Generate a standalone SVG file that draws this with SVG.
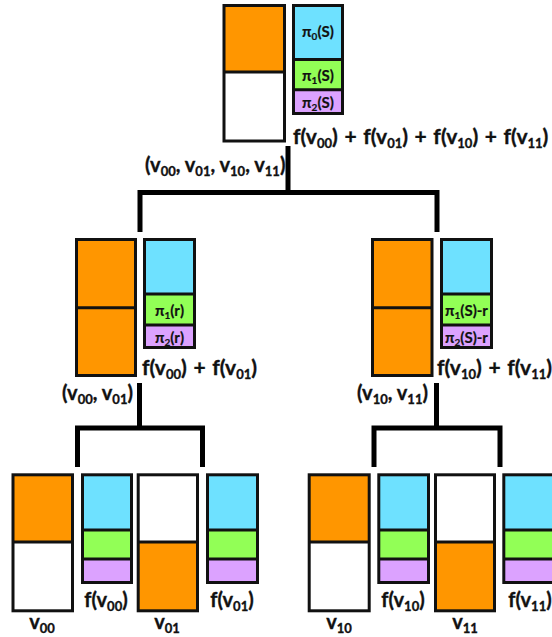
<svg xmlns="http://www.w3.org/2000/svg" width="552" height="637" viewBox="0 0 552 637">
<style>
.bx{stroke:#111;stroke-width:3;}
.or{fill:#FF9600;}
.wh{fill:#fff;}
.cy{fill:#6EE1FF;}
.gr{fill:#92FF56;}
.pu{fill:#DCA2FF;}
.dv{stroke:#111;stroke-width:3;fill:none;}
.ol{fill:none;stroke:#111;stroke-width:3;}
text{font-family:Lato,"Open Sans","Liberation Sans",sans-serif;font-weight:bold;fill:#111;}
.t{font-size:20px;stroke:#111;stroke-width:0.35px;}
.w{font-size:21px;word-spacing:1.5px;}
.p{font-size:15px;text-anchor:middle;stroke:#111;stroke-width:0.2px;}
.m{text-anchor:middle;}
.s{font-size:13px;}
.ps{font-size:10px;}
.cn{fill:none;stroke:#000;stroke-width:5;}
</style>
<g id="connectors">
<path class="cn" d="M288,146 V192.5 M140,232 V192.5 H437 V232"/>
<path class="cn" d="M139.5,383 V428 M77.5,467 V428 H202.5 V467"/>
<path class="cn" d="M436.5,383 V428 M374,467 V428 H500 V467"/>
</g>
<g id="root">
<rect class="or" x="224" y="5.5" width="60.5" height="66.5"/>
<rect class="wh" x="224" y="72" width="60.5" height="69"/>
<line class="dv" x1="224" y1="72" x2="284.5" y2="72"/>
<rect class="ol" x="224" y="5.5" width="60.5" height="135.5"/>
<rect class="cy" x="293.5" y="5.5" width="49" height="54"/>
<rect class="gr" x="293.5" y="59.5" width="49" height="30.3"/>
<rect class="pu" x="293.5" y="89.8" width="49" height="23.7"/>
<path class="dv" d="M293.5,59.5 H342.5 M293.5,89.8 H342.5"/>
<rect class="ol" x="293.5" y="5.5" width="49" height="108"/>
<text class="p" x="318" y="37">π<tspan class="ps" dy="3">0</tspan><tspan dy="-3">(S)</tspan></text>
<text class="p" x="318" y="81">π<tspan class="ps" dy="3">1</tspan><tspan dy="-3">(S)</tspan></text>
<text class="p" x="318" y="108">π<tspan class="ps" dy="3">2</tspan><tspan dy="-3">(S)</tspan></text>
<text class="t w" x="293" y="144">f(v<tspan class="s" dy="4">00</tspan><tspan dy="-4">) + f(v</tspan><tspan class="s" dy="4">01</tspan><tspan dy="-4">) + f(v</tspan><tspan class="s" dy="4">10</tspan><tspan dy="-4">) + f(v</tspan><tspan class="s" dy="4">11</tspan><tspan dy="-4">)</tspan></text>
<text class="t" x="145" y="172">(v<tspan class="s" dy="4">00</tspan><tspan dy="-4">, v</tspan><tspan class="s" dy="4">01</tspan><tspan dy="-4">, v</tspan><tspan class="s" dy="4">10</tspan><tspan dy="-4">, v</tspan><tspan class="s" dy="4">11</tspan><tspan dy="-4">)</tspan></text>
</g>
<g id="left">
<rect class="or" x="76.5" y="239.5" width="59" height="136"/>
<line class="dv" x1="76.5" y1="307.7" x2="135.5" y2="307.7"/>
<rect class="ol" x="76.5" y="239.5" width="59" height="136"/>
<rect class="cy" x="144.5" y="239.5" width="50" height="54.5"/>
<rect class="gr" x="144.5" y="294" width="50" height="31"/>
<rect class="pu" x="144.5" y="325" width="50" height="22.5"/>
<path class="dv" d="M144.5,294 H194.5 M144.5,325 H194.5"/>
<rect class="ol" x="144.5" y="239.5" width="50" height="108"/>
<text class="p" x="169.5" y="316">π<tspan class="ps" dy="3">1</tspan><tspan dy="-3">(r)</tspan></text>
<text class="p" x="169.5" y="343">π<tspan class="ps" dy="3">2</tspan><tspan dy="-3">(r)</tspan></text>
<text class="t w" x="142" y="375">f(v<tspan class="s" dy="4">00</tspan><tspan dy="-4">) + f(v</tspan><tspan class="s" dy="4">01</tspan><tspan dy="-4">)</tspan></text>
<text class="t" x="62" y="400">(v<tspan class="s" dy="4">00</tspan><tspan dy="-4">, v</tspan><tspan class="s" dy="4">01</tspan><tspan dy="-4">)</tspan></text>
</g>
<g id="right">
<rect class="or" x="372.5" y="239.5" width="59.5" height="136"/>
<line class="dv" x1="372.5" y1="307.7" x2="432" y2="307.7"/>
<rect class="ol" x="372.5" y="239.5" width="59.5" height="136"/>
<rect class="cy" x="441.5" y="239.5" width="50" height="54.5"/>
<rect class="gr" x="441.5" y="294" width="50" height="31"/>
<rect class="pu" x="441.5" y="325" width="50" height="22.5"/>
<path class="dv" d="M441.5,294 H491.5 M441.5,325 H491.5"/>
<rect class="ol" x="441.5" y="239.5" width="50" height="108"/>
<text class="p" x="466.5" y="316">π<tspan class="ps" dy="3">1</tspan><tspan dy="-3">(S)-r</tspan></text>
<text class="p" x="466.5" y="343">π<tspan class="ps" dy="3">2</tspan><tspan dy="-3">(S)-r</tspan></text>
<text class="t w" x="437" y="375">f(v<tspan class="s" dy="4">10</tspan><tspan dy="-4">) + f(v</tspan><tspan class="s" dy="4">11</tspan><tspan dy="-4">)</tspan></text>
<text class="t" x="357" y="400">(v<tspan class="s" dy="4">10</tspan><tspan dy="-4">, v</tspan><tspan class="s" dy="4">11</tspan><tspan dy="-4">)</tspan></text>
</g>
<g id="leaf00">
<rect class="or" x="13" y="474.8" width="59.5" height="67.2"/>
<rect class="wh" x="13" y="542" width="59.5" height="68.8"/>
<line class="dv" x1="13" y1="542" x2="72.5" y2="542"/>
<rect class="ol" x="13" y="474.8" width="59.5" height="136"/>
<rect class="cy" x="82.5" y="474.8" width="49" height="55.2"/>
<rect class="gr" x="82.5" y="530" width="49" height="29"/>
<rect class="pu" x="82.5" y="559" width="49" height="23.5"/>
<path class="dv" d="M82.5,530 H131.5 M82.5,559 H131.5"/>
<rect class="ol" x="82.5" y="474.8" width="49" height="107.7"/>
<text class="t m" x="106" y="607">f(v<tspan class="s" dy="4">00</tspan><tspan dy="-4">)</tspan></text>
<text class="t m" x="42" y="629">v<tspan class="s" dy="4">00</tspan></text>
</g>
<g id="leaf01">
<rect class="wh" x="138.2" y="474.8" width="59.3" height="67.2"/>
<rect class="or" x="138.2" y="542" width="59.3" height="68.8"/>
<line class="dv" x1="138.2" y1="542" x2="197.5" y2="542"/>
<rect class="ol" x="138.2" y="474.8" width="59.3" height="136"/>
<rect class="cy" x="207.5" y="474.8" width="50" height="55.2"/>
<rect class="gr" x="207.5" y="530" width="50" height="29"/>
<rect class="pu" x="207.5" y="559" width="50" height="23.5"/>
<path class="dv" d="M207.5,530 H257.5 M207.5,559 H257.5"/>
<rect class="ol" x="207.5" y="474.8" width="50" height="107.7"/>
<text class="t m" x="232" y="607">f(v<tspan class="s" dy="4">01</tspan><tspan dy="-4">)</tspan></text>
<text class="t m" x="167" y="629">v<tspan class="s" dy="4">01</tspan></text>
</g>
<g id="leaf10">
<rect class="or" x="309.2" y="474.8" width="60" height="67.2"/>
<rect class="wh" x="309.2" y="542" width="60" height="68.8"/>
<line class="dv" x1="309.2" y1="542" x2="369.2" y2="542"/>
<rect class="ol" x="309.2" y="474.8" width="60" height="136"/>
<rect class="cy" x="378.8" y="474.8" width="49.7" height="55.2"/>
<rect class="gr" x="378.8" y="530" width="49.7" height="29"/>
<rect class="pu" x="378.8" y="559" width="49.7" height="23.5"/>
<path class="dv" d="M378.8,530 H428.5 M378.8,559 H428.5"/>
<rect class="ol" x="378.8" y="474.8" width="49.7" height="107.7"/>
<text class="t m" x="403" y="607">f(v<tspan class="s" dy="4">10</tspan><tspan dy="-4">)</tspan></text>
<text class="t m" x="339" y="629">v<tspan class="s" dy="4">10</tspan></text>
</g>
<g id="leaf11">
<rect class="wh" x="435.5" y="474.8" width="59" height="67.2"/>
<rect class="or" x="435.5" y="542" width="59" height="68.8"/>
<line class="dv" x1="435.5" y1="542" x2="494.5" y2="542"/>
<rect class="ol" x="435.5" y="474.8" width="59" height="136"/>
<rect class="cy" x="503.8" y="474.8" width="50" height="55.2"/>
<rect class="gr" x="503.8" y="530" width="50" height="29"/>
<rect class="pu" x="503.8" y="559" width="50" height="23.5"/>
<path class="dv" d="M503.8,530 H553.8 M503.8,559 H553.8"/>
<rect class="ol" x="503.8" y="474.8" width="50" height="107.7"/>
<text class="t m" x="530" y="607">f(v<tspan class="s" dy="4">11</tspan><tspan dy="-4">)</tspan></text>
<text class="t m" x="465" y="629">v<tspan class="s" dy="4">11</tspan></text>
</g>
</svg>
